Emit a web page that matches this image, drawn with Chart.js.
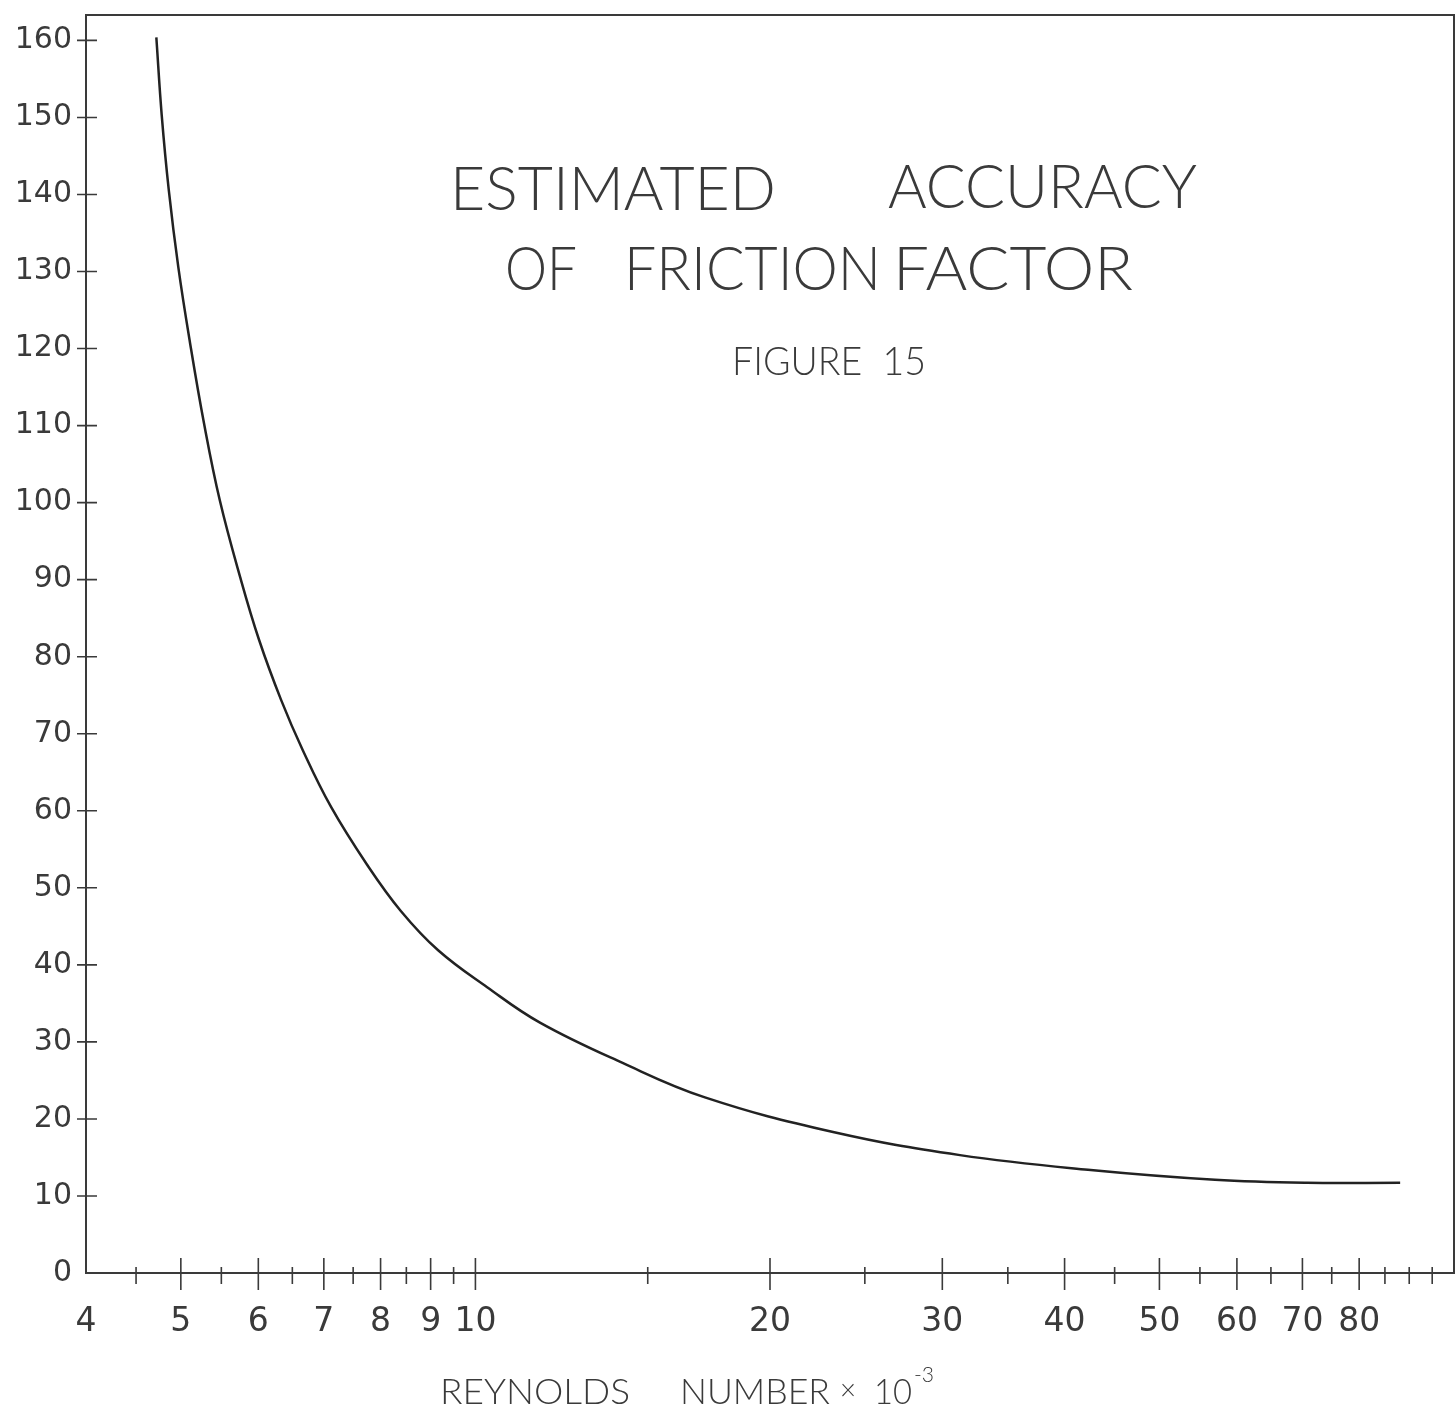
<!DOCTYPE html>
<html>
<head>
<meta charset="utf-8">
<script src="https://cdn.jsdelivr.net/npm/chart.js@4.4.1/dist/chart.umd.min.js"></script>
<style>
  body { margin: 0; background: #fff; }
  #wrap { width: 1456px; height: 1422px; }
</style>
</head>
<body>
<div id="wrap"><canvas id="chart" width="1456" height="1422"></canvas></div>
<script>
// Reynolds number x 10^-3 and estimated accuracy
var reynolds = [4.72, 4.78, 4.86, 4.97, 5.11, 5.28, 5.48, 5.75, 6.01, 6.33, 6.66, 7.12, 7.75, 8.39, 9.16, 10.28, 11.64, 14.12, 17.16, 23.2, 31.27, 42.26, 56.98, 70.76, 88.1];
var accuracy = [160.4, 150.3, 140.6, 130.6, 120.7, 110.3, 100.3, 90.3, 82.2, 74.4, 67.9, 60.5, 53.0, 47.0, 41.9, 37.1, 32.5, 27.3, 22.8, 18.3, 15.3, 13.4, 12.1, 11.7, 11.7];

var xLabels = [4, 5, 6, 7, 8, 9, 10, 20, 30, 40, 50, 60, 70, 80];
var xMajorTicks = [5, 6, 7, 8, 9, 10, 20, 30, 40, 50, 60, 70, 80];
var xMinorTicks = [4.5, 5.5, 6.5, 7.5, 8.5, 9.5, 15, 25, 35, 45, 55, 65, 75, 85, 90, 95];
var yLabels = [0, 10, 20, 30, 40, 50, 60, 70, 80, 90, 100, 110, 120, 130, 140, 150, 160];

var ink = '#3a3a3a';
var fontFamily = '"DejaVu Sans", "Noto Sans", sans-serif';
var titleFont = 'Lato, "Noto Sans", sans-serif';

var points = reynolds.map(function (x, i) {
    return { x: x, y: accuracy[i] };
});

// text squeezed to the width the lettering takes in the original
function fitText(ctx, str, left, right, baseline, size) {
    ctx.save();
    ctx.font = '300 ' + size + 'px ' + titleFont;
    ctx.fillStyle = ink;
    ctx.textBaseline = 'alphabetic';
    ctx.textAlign = 'left';
    var w = ctx.measureText(str).width;
    var sx = (right - left) / w;
    ctx.translate(left, baseline);
    ctx.scale(sx, 1);
    ctx.fillText(str, 0, 0);
    ctx.restore();
}

var paperPlugin = {
    id: 'paper',
    afterDatasetsDraw: function (chart) {
        var ctx = chart.ctx;
        var a = chart.chartArea;
        var xs = chart.scales.x;
        var ys = chart.scales.y;
        ctx.save();
        ctx.strokeStyle = ink;
        ctx.lineWidth = 2;
        ctx.strokeRect(a.left, a.top, a.right - a.left, a.bottom - a.top);

        ctx.lineWidth = 1.6;
        ctx.beginPath();
        yLabels.forEach(function (v) {
            if (v === 0) return;
            var py = ys.getPixelForValue(v);
            ctx.moveTo(a.left - 9, py);
            ctx.lineTo(a.left + 11, py);
        });
        xMajorTicks.forEach(function (v) {
            var px = xs.getPixelForValue(v);
            ctx.moveTo(px, a.bottom - 15);
            ctx.lineTo(px, a.bottom + 17);
        });
        xMinorTicks.forEach(function (v) {
            var px = xs.getPixelForValue(v);
            ctx.moveTo(px, a.bottom - 6);
            ctx.lineTo(px, a.bottom + 11);
        });
        ctx.stroke();
        ctx.restore();
    },
    afterDraw: function (chart) {
        var ctx = chart.ctx;
        fitText(ctx, 'ESTIMATED', 450, 776, 210, 62);
        fitText(ctx, 'ACCURACY', 888, 1197, 208, 62);
        fitText(ctx, 'OF', 505, 577, 290, 62);
        fitText(ctx, 'FRICTION', 624, 881, 290, 62);
        fitText(ctx, 'FACTOR', 893, 1133, 290, 62);
        fitText(ctx, 'FIGURE  15', 732, 926, 375, 40);

        fitText(ctx, 'REYNOLDS', 440, 630, 1404, 36);
        fitText(ctx, 'NUMBER', 680, 830, 1404, 36);
        fitText(ctx, '\u00d7', 840, 856, 1400, 30);
        fitText(ctx, '10', 874, 912, 1404, 36);
        fitText(ctx, '-3', 914, 934, 1382, 22);
    }
};

var ctx = document.getElementById('chart').getContext('2d');

var chart = new Chart(ctx, {
    type: 'scatter',
    data: {
        datasets: [{
            data: points,
            showLine: true,
            borderColor: '#222',
            borderWidth: 2.5,
            pointRadius: 0,
            tension: 0.4,
            fill: false
        }]
    },
    options: {
        responsive: false,
        animation: false,
        layout: { padding: { top: 15, right: 2, left: 0, bottom: 0 } },
        plugins: {
            legend: { display: false },
            tooltip: { enabled: false }
        },
        scales: {
            x: {
                type: 'logarithmic',
                min: 4,
                max: 100,
                grid: { display: false, drawTicks: false },
                border: { display: false },
                afterBuildTicks: function (scale) {
                    scale.ticks = xLabels.map(function (v) { return { value: v }; });
                },
                afterFit: function (scale) {
                    scale.height = 149;
                    scale.paddingLeft = 0;
                    scale.paddingRight = 0;
                },
                ticks: {
                    autoSkip: false,
                    maxRotation: 0,
                    padding: 30,
                    color: ink,
                    font: { family: fontFamily, size: 33 },
                    callback: function (v) { return String(v); }
                }
            },
            y: {
                type: 'linear',
                min: 0,
                max: 163.3,
                grid: { display: false, drawTicks: false },
                border: { display: false },
                afterBuildTicks: function (scale) {
                    scale.ticks = yLabels.map(function (v) { return { value: v }; });
                },
                afterFit: function (scale) {
                    scale.width = 86;
                    scale.paddingTop = 0;
                    scale.paddingBottom = 0;
                },
                ticks: {
                    padding: 14,
                    color: ink,
                    font: { family: fontFamily, size: 30 },
                    callback: function (v) { return String(v); }
                }
            }
        }
    },
    plugins: [paperPlugin]
});
</script>
</body>
</html>
